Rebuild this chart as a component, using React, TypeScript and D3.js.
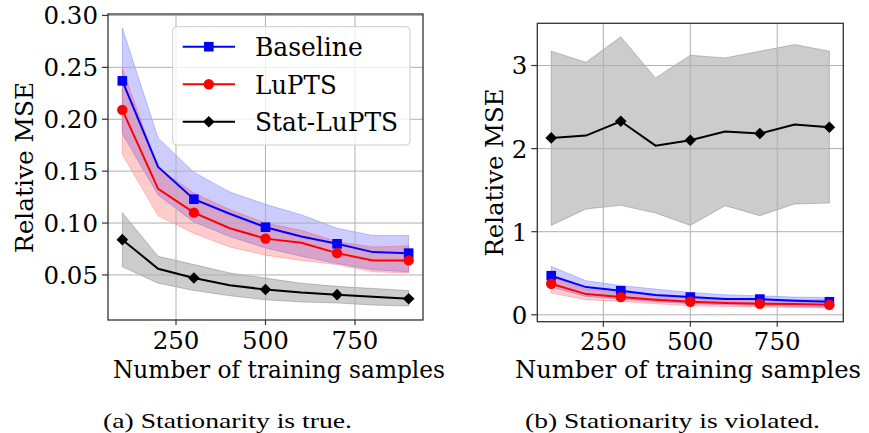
import React from "react";
import * as d3 from "d3";

const samples = [100, 200, 300, 400, 500, 600, 700, 800, 900];
const xTicks = [250, 500, 750];

// (a) stationarity is true
const baselineA = [0.237, 0.154, 0.123, 0.109, 0.096, 0.087, 0.080, 0.072, 0.071];
const baselineAHi = [0.288, 0.182, 0.149, 0.130, 0.118, 0.108, 0.095, 0.088, 0.088];
const baselineALo = [0.186, 0.127, 0.101, 0.087, 0.076, 0.068, 0.061, 0.055, 0.053];
const luptsA = [0.209, 0.133, 0.110, 0.095, 0.085, 0.081, 0.071, 0.064, 0.064];
const luptsAHi = [0.249, 0.153, 0.129, 0.113, 0.100, 0.093, 0.082, 0.077, 0.078];
const luptsALo = [0.166, 0.107, 0.090, 0.077, 0.069, 0.064, 0.060, 0.053, 0.052];
const statA = [0.084, 0.056, 0.047, 0.040, 0.036, 0.033, 0.031, 0.029, 0.027];
const statAHi = [0.110, 0.068, 0.060, 0.052, 0.047, 0.042, 0.039, 0.037, 0.035];
const statALo = [0.058, 0.042, 0.035, 0.030, 0.026, 0.024, 0.023, 0.021, 0.020];
const yTicksA = [0.05, 0.1, 0.15, 0.2, 0.25, 0.3];

// (b) stationarity is violated
const baselineB = [0.47, 0.333, 0.289, 0.237, 0.213, 0.189, 0.189, 0.169, 0.157];
const baselineBHi = [0.582, 0.41, 0.353, 0.309, 0.269, 0.241, 0.229, 0.213, 0.209];
const baselineBLo = [0.333, 0.221, 0.189, 0.157, 0.133, 0.12, 0.112, 0.1, 0.092];
const luptsB = [0.373, 0.249, 0.213, 0.181, 0.157, 0.141, 0.133, 0.129, 0.12];
const luptsBHi = [0.462, 0.309, 0.269, 0.233, 0.213, 0.197, 0.189, 0.181, 0.181];
const luptsBLo = [0.261, 0.181, 0.161, 0.133, 0.108, 0.1, 0.092, 0.088, 0.08];
const statB = [2.129, 2.157, 2.329, 2.036, 2.1, 2.205, 2.181, 2.289, 2.257];
const statBHi = [3.173, 3.04, 3.345, 2.851, 3.124, 3.092, 3.173, 3.253, 3.173];
const statBLo = [1.076, 1.273, 1.317, 1.225, 1.076, 1.313, 1.193, 1.333, 1.345];
const yTicksB = [0, 1, 2, 3];

const seriesNames = ["Baseline", "LuPTS", "Stat-LuPTS"];
const seriesColors = ["#0000ff", "#ff0000", "#000000"];
const seriesMarkers = ["square", "circle", "diamond"];

const xLabel = "Number of training samples";
const yLabel = "Relative MSE";
const captions = ["(a) Stationarity is true.", "(b) Stationarity is violated."];

const FONT = "DejaVu Serif, serif";
const CAP_FONT = "Liberation Serif, serif";
const W = 869;
const H = 433;

// measured widths of the legend texts in the picture
const legendTextLen = [107.7, 81.7, 143];

const Marker = ({ kind, x, y, color }) => {
  if (kind === "square") return <rect x={x - 4.8} y={y - 4.8} width={9.6} height={9.6} fill={color} />;
  if (kind === "circle") return <circle cx={x} cy={y} r={5.2} fill={color} />;
  const r = 5.8;
  return <path d={`M${x},${y - r}L${x + r},${y}L${x},${y + r}L${x - r},${y}Z`} fill={color} />;
};

const Panel = ({ frame, means, his, los, yTicks, yFmt, labels, showLegend }) => {
  const x = d3.scaleLinear().domain([60, 940]).range([frame.left, frame.right]);
  const lo = d3.min(los.flat());
  const hi = d3.max(his.flat());
  const pad = (hi - lo) * 0.05;
  const y = d3.scaleLinear().domain([lo - pad, hi + pad]).range([frame.bottom, frame.top]);

  const area = d3
    .area()
    .x((d) => x(d[0]))
    .y0((d) => y(d[1]))
    .y1((d) => y(d[2]));
  const line = d3
    .line()
    .x((d) => x(d[0]))
    .y((d) => y(d[1]));

  return (
    <g>
      {/* bands */}
      {means.map((m, i) => (
        <path
          key={"band" + i}
          d={area(samples.map((s, j) => [s, los[i][j], his[i][j]]))}
          fill={seriesColors[i]}
          fillOpacity={0.2}
          stroke={seriesColors[i]}
          strokeOpacity={0.2}
          strokeWidth={1}
        />
      ))}
      {/* grid */}
      {xTicks.map((t) => (
        <line key={"gx" + t} x1={x(t)} x2={x(t)} y1={frame.top} y2={frame.bottom} stroke="#b0b0b0" strokeWidth={1} />
      ))}
      {yTicks.map((t) => (
        <line key={"gy" + t} x1={frame.left} x2={frame.right} y1={y(t)} y2={y(t)} stroke="#b0b0b0" strokeWidth={1} />
      ))}
      {/* lines + markers (every other point) */}
      {means.map((m, i) => (
        <g key={"ln" + i}>
          <path d={line(samples.map((s, j) => [s, m[j]]))} fill="none" stroke={seriesColors[i]} strokeWidth={2} />
          {samples.map((s, j) =>
            j % 2 === 0 ? <Marker key={j} kind={seriesMarkers[i]} x={x(s)} y={y(m[j])} color={seriesColors[i]} /> : null
          )}
        </g>
      ))}
      {/* spines */}
      <rect
        x={frame.left}
        y={frame.top}
        width={frame.right - frame.left}
        height={frame.bottom - frame.top}
        fill="none"
        stroke="#333"
        strokeWidth={1.3}
      />
      {/* ticks */}
      {xTicks.map((t) => (
        <g key={"tx" + t}>
          <line x1={x(t)} x2={x(t)} y1={frame.bottom} y2={frame.bottom + 5} stroke="#333" strokeWidth={1.2} />
          <text x={x(t)} y={frame.bottom + 28.5} textAnchor="middle" fontFamily={FONT} fontSize={24.5} fill="#000">
            {t}
          </text>
        </g>
      ))}
      {yTicks.map((t) => (
        <g key={"ty" + t}>
          <line x1={frame.left - 6} x2={frame.left} y1={y(t)} y2={y(t)} stroke="#333" strokeWidth={1.2} />
          <text x={frame.left - 10} y={y(t) + 8.9} textAnchor="end" fontFamily={FONT} fontSize={24.5} fill="#000">
            {yFmt(t)}
          </text>
        </g>
      ))}
      <text
        x={labels.xStart}
        y={labels.xBase}
        fontFamily={FONT}
        fontSize={24}
        fill="#000"
        textLength={labels.xLen}
        lengthAdjust="spacingAndGlyphs"
      >
        {xLabel}
      </text>
      <text
        transform={`translate(${labels.yBase},${labels.yMid}) rotate(-90)`}
        x={-labels.yLen / 2}
        fontFamily={FONT}
        fontSize={25}
        fill="#000"
        textLength={labels.yLen}
        lengthAdjust="spacingAndGlyphs"
      >
        {yLabel}
      </text>
      {showLegend && (
        <g>
          <rect x={172.7} y={26.7} width={237.3} height={118.3} rx={4} fill="#fff" fillOpacity={0.8} stroke="#cccccc" strokeWidth={1} />
          {seriesNames.map((n, i) => {
            const ry = 46.7 + i * 37.5;
            return (
              <g key={n}>
                <line x1={182.7} x2={235} y1={ry} y2={ry} stroke={seriesColors[i]} strokeWidth={2} />
                <Marker kind={seriesMarkers[i]} x={208.8} y={ry} color={seriesColors[i]} />
                <text
                  x={255}
                  y={ry + 9.5}
                  fontFamily={FONT}
                  fontSize={26}
                  fill="#000"
                  textLength={legendTextLen[i]}
                  lengthAdjust="spacingAndGlyphs"
                >
                  {n}
                </text>
              </g>
            );
          })}
        </g>
      )}
    </g>
  );
};

export default function App() {
  return (
    <svg width={W} height={H} style={{ position: "absolute", left: 0, top: 0, background: "#fff" }}>
      <rect width={W} height={H} fill="#fff" />
      <Panel
        frame={{ left: 108, right: 423, top: 14, bottom: 320 }}
        means={[baselineA, luptsA, statA]}
        his={[baselineAHi, luptsAHi, statAHi]}
        los={[baselineALo, luptsALo, statALo]}
        yTicks={yTicksA}
        yFmt={d3.format(".2f")}
        labels={{ xStart: 113, xLen: 332, xBase: 378, yBase: 33, yMid: 167.5, yLen: 171 }}
        showLegend={true}
      />
      <Panel
        frame={{ left: 537.3, right: 843.3, top: 23.3, bottom: 321.7 }}
        means={[baselineB, luptsB, statB]}
        his={[baselineBHi, luptsBHi, statBHi]}
        los={[baselineBLo, luptsBLo, statBLo]}
        yTicks={yTicksB}
        yFmt={d3.format("d")}
        labels={{ xStart: 515, xLen: 346, xBase: 378, yBase: 502.7, yMid: 172.5, yLen: 168 }}
        showLegend={false}
      />
      <text x={227.5} y={427.5} textAnchor="middle" fontFamily={CAP_FONT} fontSize={21} textLength={249} lengthAdjust="spacingAndGlyphs">
        {captions[0]}
      </text>
      <text x={672.5} y={427.5} textAnchor="middle" fontFamily={CAP_FONT} fontSize={21} textLength={295} lengthAdjust="spacingAndGlyphs">
        {captions[1]}
      </text>
    </svg>
  );
}
